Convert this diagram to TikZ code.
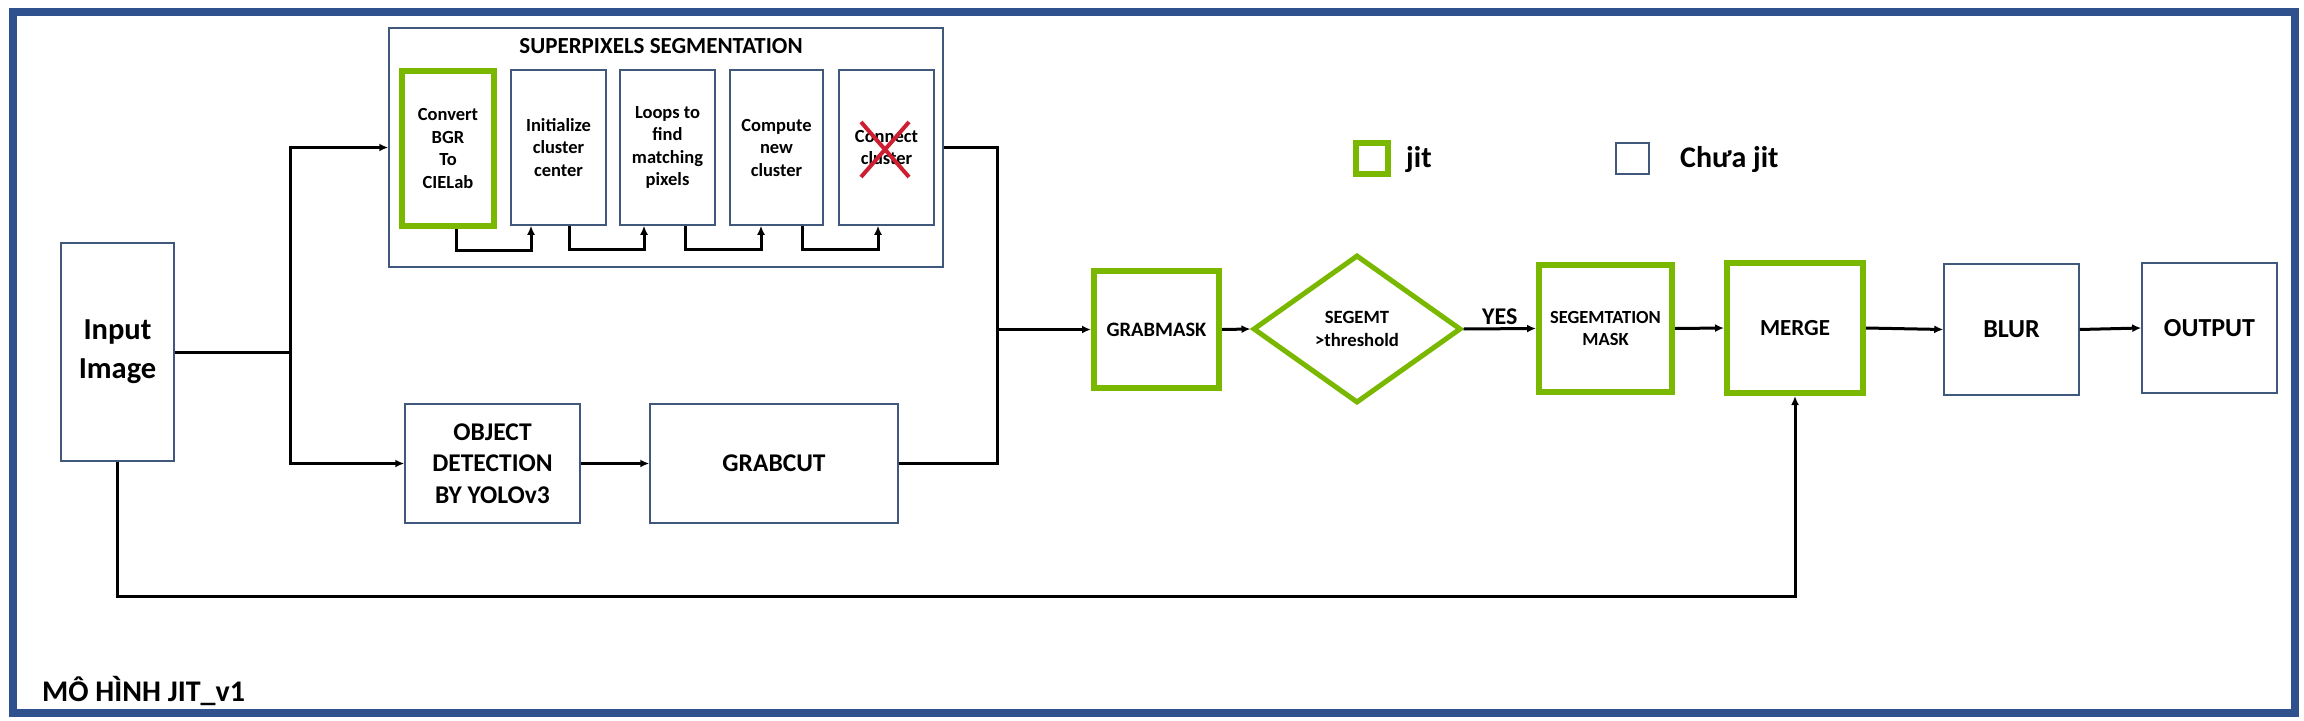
\documentclass[tikz,border=0pt]{standalone}
\usepackage{fontspec}
\setmainfont{Carlito}
\usetikzlibrary{arrows.meta,shapes.geometric}
\definecolor{frameblue}{RGB}{47,82,143}
\definecolor{boxblue}{RGB}{65,88,125}
\definecolor{jitgreen}{RGB}{122,184,0}
\definecolor{crossred}{RGB}{205,30,50}
\tikzset{
  thinbox/.style={draw=boxblue, line width=1.5pt, inner sep=0pt, align=center},
  greenbox/.style={draw=jitgreen, line width=6pt, inner sep=0pt, align=center},
  arr/.style={line width=3pt, -{Latex[length=9pt,width=8pt]}},
  ln/.style={line width=3pt},
  small/.style={font=\bfseries\fontsize{18.5}{22.5}\selectfont},
  mid/.style={font=\bfseries\fontsize{25.5}{31.3}\selectfont},
}
\begin{document}
\begin{tikzpicture}[x=1pt,y=-1pt]
\useasboundingbox (0,0) rectangle (2304,720);
\fill[white] (0,0) rectangle (2304,720);
\draw[frameblue, line width=8pt] (13,12) rectangle (2295,713);

% input
\node[thinbox, minimum width=113pt, minimum height=218pt, font=\bfseries\fontsize{30.5}{39}\selectfont] (inp) at (117.5,352) {Input\\Image};

% superpixels group
\node[thinbox, minimum width=554pt, minimum height=239pt] (sp) at (666,147.5) {};
\node[font=\bfseries\fontsize{23}{28}\selectfont, inner sep=0pt] (sptitle) at (661,46) {SUPERPIXELS SEGMENTATION};
\node[greenbox, small, minimum width=92pt, minimum height=155pt] (b1) at (448,148.5) {Convert\\BGR\\To\\CIELab};
\node[thinbox, small, minimum width=95pt, minimum height=155pt] (b2) at (558.5,147.5) {Initialize\\cluster\\center};
\node[thinbox, small, minimum width=95pt, minimum height=155pt] (b3) at (667.5,147.5) {Loops to\\find\\matching\\pixels};
\node[thinbox, small, minimum width=93pt, minimum height=155pt] (b4) at (776.5,147.5) {Compute\\new\\cluster};
\node[thinbox, small, minimum width=95pt, minimum height=155pt] (b5) at (886.5,147.5) {Connect\\cluster};
\draw[crossred, line width=4pt] (861,122) -- (909,177);
\draw[crossred, line width=4pt] (909,122) -- (861,177);

\draw[arr] ([xshift=8pt]b1.south) -- ++(0,21) -| ([xshift=-27.5pt]b2.south);
\draw[arr] ([xshift=10.5pt]b2.south) -- ++(0,24) -| ([xshift=-23.5pt]b3.south);
\draw[arr] ([xshift=17.5pt]b3.south) -- ++(0,24) -| ([xshift=-15.5pt]b4.south);
\draw[arr] ([xshift=25.5pt]b4.south) -- ++(0,24) -| ([xshift=-8.5pt]b5.south);

% lower branch
\node[thinbox, mid, minimum width=175pt, minimum height=119pt] (obj) at (492.5,463.5) {OBJECT\\DETECTION\\BY YOLOv3};
\node[thinbox, mid, minimum width=248pt, minimum height=119pt] (gc) at (774,463.5) {GRABCUT};

% main chain
\node[greenbox, font=\bfseries\fontsize{20.5}{24}\selectfont, minimum width=125pt, minimum height=117pt] (gm) at (1156.5,329.5) {GRABMASK};
\node[shape=diamond, draw=jitgreen, line width=5pt, inner sep=0pt, aspect=1.4, minimum width=208pt, minimum height=148pt, align=center, font=\bfseries\fontsize{18.7}{22.7}\selectfont] (dia) at (1357,329) {SEGEMT\\>threshold};
\node[greenbox, font=\bfseries\fontsize{18.5}{22.7}\selectfont, minimum width=133pt, minimum height=127pt] (sm) at (1605.5,328.5) {SEGEMTATION\\MASK};
\node[greenbox, font=\bfseries\fontsize{23}{28}\selectfont, minimum width=136pt, minimum height=130pt] (mg) at (1795,328) {MERGE};
\node[thinbox, font=\bfseries\fontsize{26}{31}\selectfont, minimum width=135pt, minimum height=131pt] (blur) at (2011.5,329.5) {BLUR};
\node[thinbox, font=\bfseries\fontsize{26}{31}\selectfont, minimum width=135pt, minimum height=130pt] (out) at (2209.5,328) {OUTPUT};

% legend
\node[draw=jitgreen, line width=6pt, minimum width=32pt, minimum height=31pt, inner sep=0pt] (lg) at (1372,158.5) {};
\node[anchor=west, inner sep=0pt, font=\bfseries\fontsize{30}{36}\selectfont] (lgt) at (1406,160) {jit};
\node[thinbox, minimum width=33pt, minimum height=31pt] (lb) at (1632.5,158.5) {};
\node[anchor=west, inner sep=0pt, font=\bfseries\fontsize{30}{36}\selectfont] (lbt) at (1680,160) {Chưa jit};

% model title
\node[anchor=west, inner sep=0pt, font=\bfseries\fontsize{30}{36}\selectfont] (mt) at (42,691) {MÔ HÌNH JIT\_v1};

% connectors
\coordinate (j1) at (290,352);
\coordinate (j2) at (997,329.5);
\draw[ln] (inp.east) -- (j1);
\draw[arr] (j1) |- (sp.west);
\draw[arr] (j1) |- (obj.west);
\draw[arr] (obj.east) -- (gc.east -| gc.west);
\draw[ln] (sp.east) -| (j2);
\draw[ln] (gc.east) -| (j2);
\draw[arr] (j2) -- (gm.west);
\draw[arr] (gm.east) -- (dia.west);
\draw[arr] (dia.east) -- node[above, inner sep=3pt, font=\bfseries\fontsize{24}{28}\selectfont] (yes) {YES} (sm.west);
\draw[arr] (sm.east) -- (mg.west);
\draw[arr] (mg.east) -- (blur.west);
\draw[arr] (blur.east) -- (out.west);
\draw[arr] (inp.south) -- ++(0,135) -| (mg.south);
\end{tikzpicture}
\end{document}
